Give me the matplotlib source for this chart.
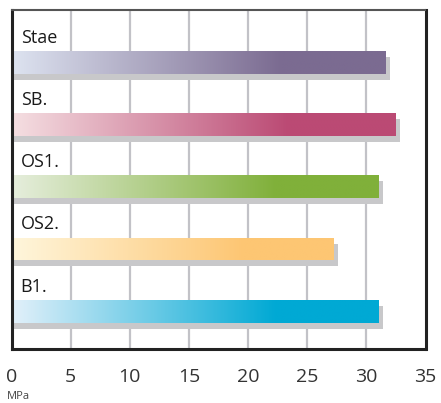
import numpy as np
import matplotlib
matplotlib.use("Agg")
import matplotlib.pyplot as plt
from matplotlib.colors import LinearSegmentedColormap

categories = ["Stae", "SB.", "OS1.", "OS2.", "B1."]
values = [31.6, 32.45, 30.95, 27.15, 30.95]
light_colors = ["#dde3f0", "#f5dfe2", "#e6eedd", "#fff6dc", "#e2f0fa"]
full_colors = ["#7b6b91", "#bb4a74", "#80b03a", "#fdc673", "#00a9d4"]
xticks = [0, 5, 10, 15, 20, 25, 30, 35]
xlabel = "MPa"

plt.rcParams['font.family'] = ['Open Sans', 'DejaVu Sans']

W, H = 441, 403
fig = plt.figure(figsize=(W / 100, H / 100), dpi=100)
ax = fig.add_axes([11.5 / W, (H - 349) / H, (425.5 - 11.5) / W, (349 - 10) / H])

n = len(categories)
pos = np.arange(n)[::-1]  # Stae on top
bar_h = 0.365
# shadow offsets in data units (5px right, 6px down)
px_x = 35 / 414.0
px_y = 5.448 / 339.0
sh_dx = 5 * px_x
sh_dy = 6 * px_y

ax.set_xlim(0, 35)
ax.set_ylim(-0.606, 4.842)

# grid
for t in xticks[1:-1]:
    ax.axvline(t, color="#c2c2c7", lw=1.6, zorder=0)

grad = np.linspace(0, 1, 256)
for i, (cat, v, lc, fc) in enumerate(zip(categories, values, light_colors, full_colors)):
    y = pos[i]
    # shadow
    ax.barh(y - sh_dy, v + sh_dx, left=0, height=bar_h, color="#c8c8ca",
            edgecolor="none", zorder=1)
    # gradient bar
    cmap = LinearSegmentedColormap.from_list(
        "g%d" % i, [(0, lc), (0.72, fc), (1.0, fc)])
    bar = ax.barh(y, v, left=0, height=bar_h, color="none", edgecolor="none", zorder=2)[0]
    im = ax.imshow(grad[np.newaxis, :], cmap=cmap, aspect="auto",
                   extent=[0, v, y - bar_h / 2, y + bar_h / 2],
                   interpolation="bilinear", zorder=2)
    im.set_clip_path(bar)
    ax.text(0.78, y + 0.395, cat, fontsize=13, color="#1a1a1a",
            ha="left", va="center", zorder=3)

ax.set_xlim(0, 35)
ax.set_ylim(-0.606, 4.842)

ax.set_yticks([])
ax.set_xticks(xticks)
ax.set_xticklabels([str(t) for t in xticks], fontsize=14, color="#333333")
ax.tick_params(axis="x", length=0, pad=14)

for s in ["left", "bottom", "right"]:
    ax.spines[s].set_color("#222222")
    ax.spines[s].set_linewidth(2.2)
ax.spines["top"].set_color("#555555")
ax.spines["top"].set_linewidth(1.5)

fig.text(7 / W, 1 - 391 / H, xlabel, fontsize=8, color="#444444",
         ha="left", va="top")

fig.savefig("out.png", dpi=100)
